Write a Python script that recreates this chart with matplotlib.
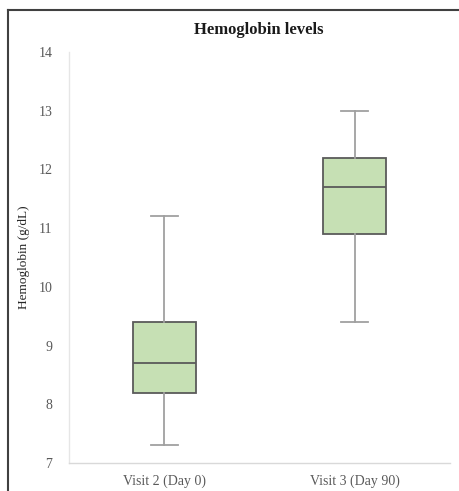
import matplotlib
matplotlib.use("Agg")
import matplotlib.pyplot as plt
from matplotlib.lines import Line2D

categories = ["Visit 2 (Day 0)", "Visit 3 (Day 90)"]
whislo = [7.3, 9.4]
q1 = [8.2, 10.9]
med = [8.7, 11.7]
q3 = [9.4, 12.2]
whishi = [11.2, 13.0]
yticks = [7, 8, 9, 10, 11, 12, 13, 14]

plt.rcParams['font.family'] = ['Liberation Serif', 'DejaVu Serif']

fig = plt.figure(figsize=(4.59, 4.91), dpi=100)
W, H = 459, 491
ax = fig.add_axes([69 / W, 1 - 463 / H, (450 - 69) / W, (463 - 52) / H])

stats = []
for i, c in enumerate(categories):
    stats.append(dict(label=c, whislo=whislo[i], q1=q1[i], med=med[i],
                      q3=q3[i], whishi=whishi[i], fliers=[]))

ax.bxp(stats, positions=[0, 1], widths=0.33, patch_artist=True,
       showfliers=False,
       boxprops=dict(facecolor="#c6e0b4", edgecolor="#5a5a5a", linewidth=1.3),
       medianprops=dict(color="#5a5a5a", linewidth=1.3),
       whiskerprops=dict(color="#a0a0a0", linewidth=1.3),
       capprops=dict(color="#a0a0a0", linewidth=1.3),
       capwidths=0.14)

ax.set_xlim(-0.5, 1.5)
ax.set_ylim(7, 14)
ax.set_yticks(yticks)
ax.set_yticklabels([str(v) for v in yticks], fontsize=10, color="#595959")
ax.set_xticks([0, 1])
ax.set_xticklabels(categories, fontsize=10, color="#595959")
ax.tick_params(axis='y', length=0, pad=12)
ax.tick_params(axis='x', length=0, pad=8)
for s in ["top", "right"]:
    ax.spines[s].set_visible(False)
ax.spines["left"].set_color("#e6e6e6")
ax.spines["bottom"].set_color("#d9d9d9")
ax.spines["left"].set_linewidth(1.0)
ax.spines["bottom"].set_linewidth(1.0)

ax.set_ylabel("Hemoglobin (g/dL)", fontsize=9.5, color="#262626", labelpad=6)
fig.text(259 / W, 1 - 30 / H, "Hemoglobin levels", ha="center", va="center",
         fontsize=12, fontweight="bold", color="#1a1a1a")

# outer frame (top and left edges)
fig.add_artist(Line2D([8 / W, 1.0], [1 - 10 / H, 1 - 10 / H],
                      transform=fig.transFigure, color="#404040", linewidth=1.5))
fig.add_artist(Line2D([8 / W, 8 / W], [0, 1 - 10 / H],
                      transform=fig.transFigure, color="#404040", linewidth=1.5))

fig.savefig("out.png", dpi=100)
